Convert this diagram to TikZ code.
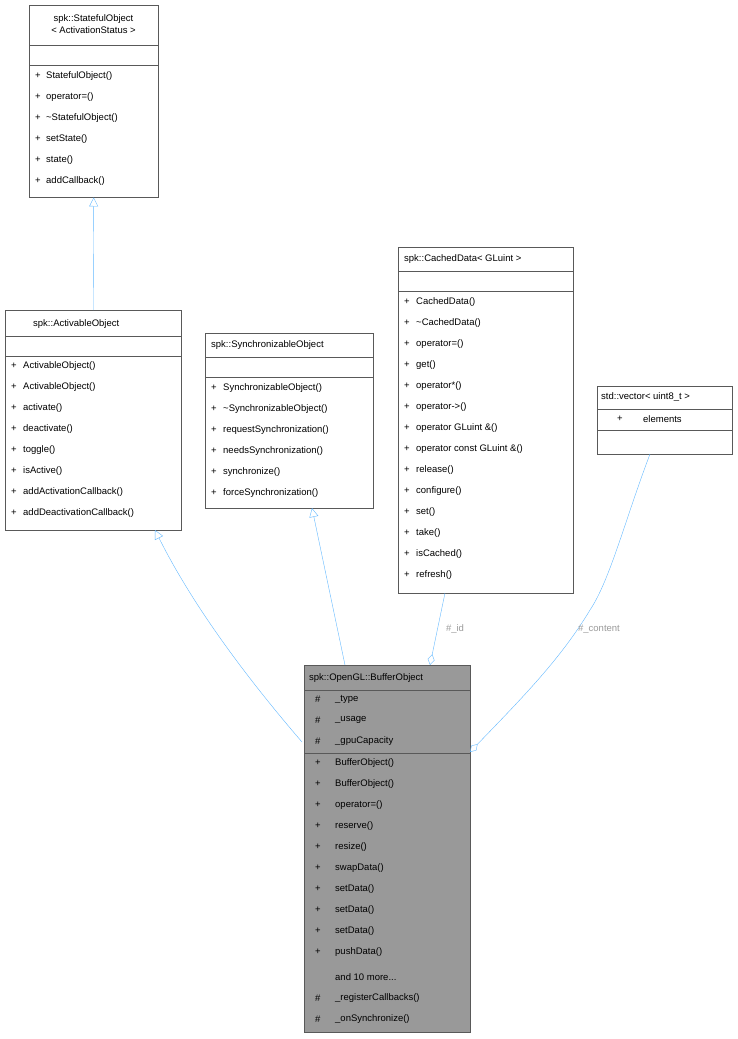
\documentclass[tikz,border=0pt]{standalone}
\usepackage{fontspec}
\setmainfont{Liberation Sans}
\usetikzlibrary{arrows.meta}
\definecolor{eblue}{HTML}{63B8FF}
\definecolor{lgray}{HTML}{9A9A9A}
\definecolor{bfill}{HTML}{999999}
\tikzset{
 box/.style={draw=black!65, fill=white, anchor=north west, inner sep=0pt},
 txt/.style={anchor=west, inner sep=0pt, font=\fontsize{9.5}{11}\selectfont},
 sep/.style={draw=black!65},
 inh/.style={draw=eblue, -{Triangle[open,length=9pt,width=9pt]}},
 agg/.style={draw=eblue, -{Diamond[open,length=11pt,width=7pt]}},
 lbl/.style={font=\fontsize{9.5}{11}\selectfont, text=lgray, inner sep=0pt},
}
\newcommand\mlist[4]{% x, plus x offset, y0, list
 \foreach \t [count=\i] in {#4}{
  \node[txt] at (#1,#3+21*\i-21) {+};
  \node[txt] at (#1+#2,#3+21*\i-21) {\t};
 }}
\begin{document}
\begin{tikzpicture}[x=1pt,y=-1pt]
\useasboundingbox (0,0) rectangle (738,1039);
% StatefulObject
\node[box, minimum width=129pt, minimum height=192pt] (so) at (29,5) {};
\node[txt, anchor=center, align=center] (sot) at (93.5,24) {spk::StatefulObject\\[1pt]< ActivationStatus >};
\draw[sep] (29,45) -- (158,45); \draw[sep] (29,65) -- (158,65);
\mlist{35}{11}{76}{StatefulObject(),operator=(),\textasciitilde StatefulObject(),setState(),state(),addCallback()}
% ActivableObject
\node[box, minimum width=176pt, minimum height=220pt] (ao) at (5,310) {};
\node[txt] (aot) at (33,324) {spk::ActivableObject};
\draw[sep] (5,336) -- (181,336); \draw[sep] (5,356) -- (181,356);
\mlist{11}{12}{366}{ActivableObject(),ActivableObject(),activate(),deactivate(),toggle(),isActive(),addActivationCallback(),addDeactivationCallback()}
% SynchronizableObject
\node[box, minimum width=168pt, minimum height=175pt] (sy) at (205,333) {};
\node[txt] (syt) at (211,345) {spk::SynchronizableObject};
\draw[sep] (205,357) -- (373,357); \draw[sep] (205,377) -- (373,377);
\mlist{211}{12}{388}{SynchronizableObject(),\textasciitilde SynchronizableObject(),requestSynchronization(),needsSynchronization(),synchronize(),forceSynchronization()}
% CachedData
\node[box, minimum width=175pt, minimum height=346pt] (cd) at (398,247) {};
\node[txt] (cdt) at (404,259) {spk::CachedData< GLuint >};
\draw[sep] (398,271) -- (573,271); \draw[sep] (398,291) -- (573,291);
\mlist{404}{12}{302}{CachedData(),\textasciitilde CachedData(),operator=(),get(),operator*(),operator->(),operator GLuint \&(),operator const GLuint \&(),release(),configure(),set(),take(),isCached(),refresh()}
% vector
\node[box, minimum width=135pt, minimum height=68pt] (ve) at (597,386) {};
\node[txt] (vet) at (601,397) {std::vector< uint8\_t >};
\draw[sep] (597,409) -- (732,409); \draw[sep] (597,430) -- (732,430);
\node[txt] at (617,419) {+};
\node[txt] at (643,419) {elements};
% BufferObject
\node[box, fill=bfill, minimum width=166pt, minimum height=367pt] (bo) at (304,665) {};
\node[txt] (bot) at (309,678) {spk::OpenGL::BufferObject};
\draw[sep] (304,690) -- (470,690); \draw[sep] (304,753) -- (470,753);
\foreach \t [count=\i] in {\_type,\_usage,\_gpuCapacity}{
 \node[txt] at (315,699+21*\i-21) {\#};
 \node[txt] at (335,699+21*\i-21) {\t};}
\mlist{315}{20}{763}{BufferObject(),BufferObject(),operator=(),reserve(),resize(),swapData(),setData(),setData(),setData(),pushData()}
\node[txt] at (335,977) {and 10 more...};
\node[txt] at (315,998) {\#}; \node[txt] at (335,998) {\_registerCallbacks()};
\node[txt] at (315,1019) {\#}; \node[txt] at (335,1019) {\_onSynchronize()};
% edges
\coordinate (bo1) at (302,742);
\coordinate (ao1) at (155,530);
\coordinate (bo2) at (345,665);
\coordinate (sy1) at (312,508);
\coordinate (cd1) at (445,593);
\coordinate (bo3) at (430,665);
\coordinate (ve1) at (650,454);
\coordinate (bo4) at (470,752);
\draw[inh] (ao.north) -- (so.south);
\draw[inh] (bo1) .. controls (240,670) and (190,600) .. (ao1);
\draw[inh] (bo2) -- (sy1);
\draw[agg] (cd1) -- (bo3);
\draw[agg] (ve1) .. controls (625,520) and (610,580) .. (590,610) .. controls (560,660) and (520,700) .. (bo4);
\node[lbl] (l1) at (455,629) {\#\_id};
\node[lbl] (l2) at (599,629) {\#\_content};
\end{tikzpicture}
\end{document}
